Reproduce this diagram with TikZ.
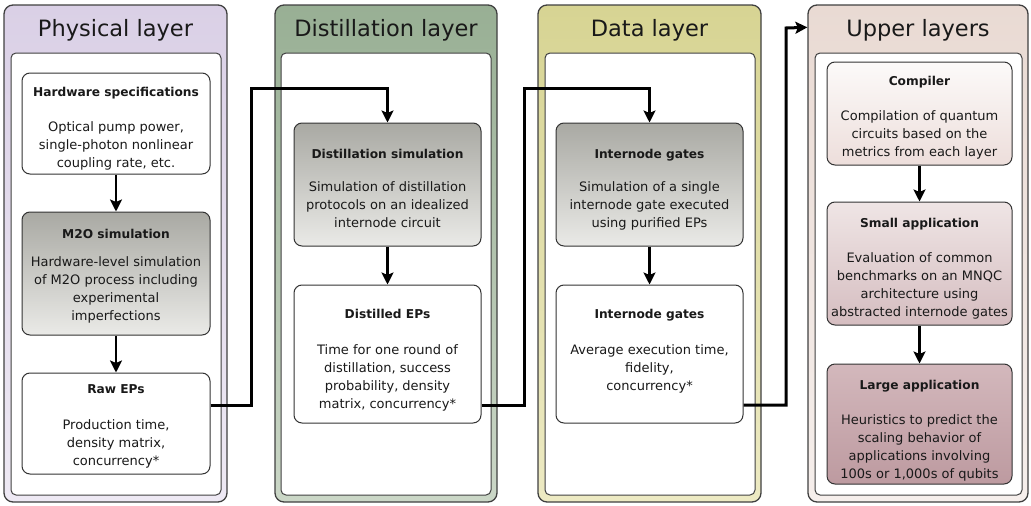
\documentclass[tikz,border=0pt]{standalone}
\usepackage{fontspec}
\setmainfont{DejaVu Sans}
\usetikzlibrary{arrows.meta}
\definecolor{physTop}{HTML}{DAD0E6}
\definecolor{physBot}{HTML}{EEE9F4}
\definecolor{distTop}{HTML}{98AF94}
\definecolor{distBot}{HTML}{CBD7C7}
\definecolor{dataTop}{HTML}{D7D493}
\definecolor{dataBot}{HTML}{EDEAC3}
\definecolor{upTop}{HTML}{E9DAD3}
\definecolor{upBot}{HTML}{F6EFEC}
\definecolor{grayTop}{HTML}{A9A9A3}
\definecolor{grayBot}{HTML}{EAEAE7}
\definecolor{compTop}{HTML}{FCFAF9}
\definecolor{compBot}{HTML}{EDDEDB}
\definecolor{smallTop}{HTML}{EFE5E5}
\definecolor{smallBot}{HTML}{D5BDC0}
\definecolor{largeTop}{HTML}{D3B8BC}
\definecolor{largeBot}{HTML}{BD9AA0}
\tikzset{
  layerbox/.style={draw=black!75, line width=1.3pt, rounded corners=9pt, inner sep=0pt},
  innerbox/.style={draw=black!75, line width=1pt, rounded corners=5pt, fill=white, inner sep=0pt},
  stepbox/.style={draw=black!80, line width=1pt, rounded corners=8pt, fill=white, align=center,
    inner sep=0pt, font=\fontsize{13}{18}\selectfont, text=black!90},
  graybox/.style={stepbox, top color=grayTop, bottom color=grayBot},
  layertitle/.style={font=\fontsize{22.5}{26}\selectfont, text=black!90, inner sep=0pt},
  flow/.style={line width=2.8pt, -{Stealth[length=12pt,width=12pt,inset=2.5pt]}},
  conn/.style={line width=3pt, -{Stealth[length=12pt,width=12pt,inset=2.5pt]}},
}
% #1 height of title line, #2 extra gap after title, #3 title
\newcommand{\hd}[3]{\rule{0pt}{#1pt}\textbf{\fontsize{12.2}{18}\selectfont #3}\\[#2pt]}
% depth of last line
\newcommand{\lastdp}[1]{\rule[-#1pt]{0pt}{#1pt}}
\begin{document}
\begin{tikzpicture}[x=1pt,y=-1pt]
\useasboundingbox (0,0) rectangle (1031,506);
% layers
\node[layerbox, top color=physTop, bottom color=physBot, minimum width=223pt, minimum height=497pt] (phys) at (115.5,253.5) {};
\node[layerbox, top color=distTop, bottom color=distBot, minimum width=222pt, minimum height=497pt] (dist) at (386,253.5) {};
\node[layerbox, top color=dataTop, bottom color=dataBot, minimum width=223pt, minimum height=497pt] (data) at (649.5,253.5) {};
\node[layerbox, top color=upTop, bottom color=upBot, minimum width=220pt, minimum height=497pt] (upper) at (918,253.5) {};
\node[innerbox, minimum width=210pt, minimum height=442pt] (physin) at (116,274) {};
\node[innerbox, minimum width=210pt, minimum height=442pt] (distin) at (386,274) {};
\node[innerbox, minimum width=210pt, minimum height=442pt] (datain) at (650,274) {};
\node[innerbox, minimum width=207pt, minimum height=442pt] (upin) at (918.5,274) {};
\node[layertitle] (physt) at (115.5,30.5) {Physical layer};
\node[layertitle] (distt) at (386,30.5) {Distillation layer};
\node[layertitle] (datat) at (649.5,30.5) {Data layer};
\node[layertitle] (upt) at (918,30.5) {Upper layers};
% physical layer
\node[stepbox, minimum width=188pt, minimum height=101pt] (hw) at (116,123.5)
  {\hd{22}{17}{Hardware specifications}Optical pump power,\\single-photon nonlinear\\coupling rate, etc.\lastdp{5}};
\node[graybox, minimum width=188pt, minimum height=123pt] (m2o) at (116,273.5)
  {\hd{17}{10}{M2O simulation}Hardware-level simulation\\of M2O process including\\experimental\\imperfections\lastdp{5}};
\node[stepbox, minimum width=188pt, minimum height=101pt] (raw) at (116,423.5)
  {\hd{17}{18}{Raw EPs}Production time,\\density matrix,\\concurrency*\lastdp{5}};
% distillation layer
\node[graybox, minimum width=187pt, minimum height=123pt] (ds) at (387.5,184.5)
  {\hd{22}{15}{Distillation simulation}Simulation of distillation\\protocols on an idealized\\internode circuit\lastdp{5}};
\node[stepbox, minimum width=187pt, minimum height=138pt] (dep) at (387.5,354)
  {\hd{24}{18}{Distilled EPs}Time for one round of\\distillation, success\\probability, density\\matrix, concurrency*\lastdp{5}};
% data layer
\node[graybox, minimum width=187pt, minimum height=123pt] (is) at (649.5,184.5)
  {\hd{22}{15}{Internode gates}Simulation of a single\\internode gate executed\\using purified EPs\lastdp{5}};
\node[stepbox, minimum width=187pt, minimum height=138pt] (ig) at (649.5,354)
  {\hd{10}{18}{Internode gates}Average execution time,\\fidelity,\\concurrency*\lastdp{9}};
% upper layers
\node[stepbox, top color=compTop, bottom color=compBot, minimum width=185pt, minimum height=103pt] (comp) at (919.5,113.5)
  {\hd{20}{17}{Compiler}Compilation of quantum\\circuits based on the\\metrics from each layer\lastdp{5}};
\node[stepbox, top color=smallTop, bottom color=smallBot, minimum width=185pt, minimum height=123pt] (small) at (919.5,263.5)
  {\hd{22}{17}{Small application}Evaluation of common\\benchmarks on an MNQC\\architecture using\\abstracted internode gates\lastdp{5}};
\node[stepbox, top color=largeTop, bottom color=largeBot, minimum width=185pt, minimum height=120pt] (large) at (919.5,424)
  {\hd{25}{17}{Large application}Heuristics to predict the\\scaling behavior of\\applications involving\\100s or 1,000s of qubits\lastdp{5}};
% arrows inside layers
\draw[flow] (hw) -- (m2o);
\draw[flow] (m2o) -- (raw);
\draw[flow] (ds) -- (dep);
\draw[flow] (is) -- (ig);
\draw[flow] (comp) -- (small);
\draw[flow] (small) -- (large);
% connectors between layers
\coordinate (c1) at (251,88);
\coordinate (c2) at (524,88);
\coordinate (c3) at (786,28);
\draw[conn] ([yshift=18.5pt]raw.east) -| (c1) -| (ds.north);
\draw[conn] ([yshift=-51pt]dep.east) -| (c2) -| (is.north);
\draw[conn] ([yshift=-51pt]ig.east) -| (c3) -- ([yshift=-23pt]upper.north west);
\end{tikzpicture}
\end{document}
